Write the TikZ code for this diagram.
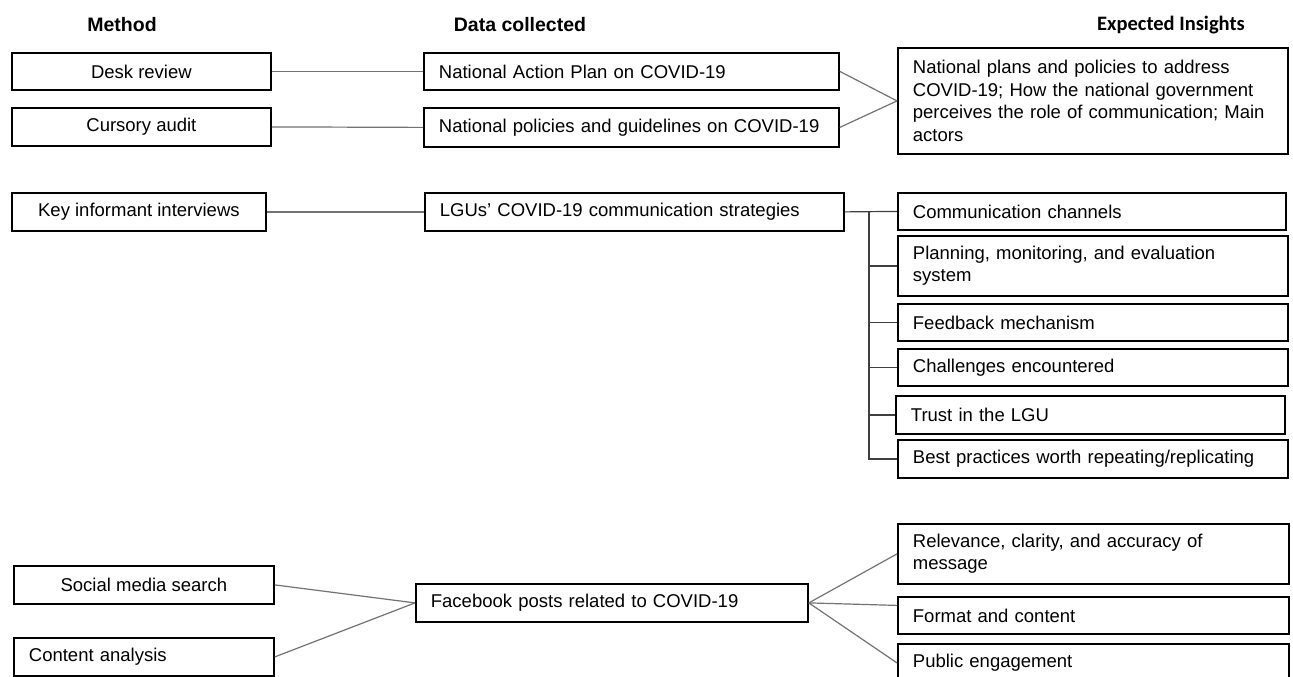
\documentclass[tikz,border=0pt]{standalone}
\usepackage{fontspec}
\setmainfont{Liberation Sans}
\newfontfamily\calfont{Carlito}
\begin{document}
\begin{tikzpicture}[x=1pt,y=-1pt,
  bx/.style={draw=black, line width=1.8pt, rectangle, inner sep=0pt, anchor=north west,
             font=\fontsize{18.5}{22.5}\selectfont},
  lbx/.style={bx, align=left, inner xsep=15pt},
  conn/.style={draw=black!55, line width=1.2pt},
  tree/.style={draw=black!75, line width=1.2pt},
  hd/.style={font=\bfseries\fontsize{19.5}{22}\selectfont},
  hdc/.style={font=\calfont\bfseries\fontsize{20.5}{22}\selectfont}]
\useasboundingbox (0,0) rectangle (1293,677);
\fill[white] (0,0) rectangle (1293,677);

% headers
\node[hd] (h1) at (122,25) {Method};
\node[hd] (h2) at (520,25) {Data collected};
\node[hdc] (h3) at (1171,25) {Expected Insights};

% top section
\node[bx, minimum width=259pt, minimum height=37pt] (desk) at (11,52) {Desk review};
\node[bx, minimum width=259pt, minimum height=38pt] (curs) at (11,107) {Cursory audit};
\node[lbx, text width=385pt, minimum height=37pt] (nap) at (423,52) {National Action Plan on COVID-19};
\node[lbx, text width=385pt, minimum height=39pt] (npg) at (423,107) {National policies and guidelines on COVID-19};
\node[lbx, text width=360pt, minimum height=106pt] (exp) at (897,47) {National plans and policies to address\\COVID-19; How the national government\\perceives the role of communication; Main\\actors};

\draw[conn] (desk.east) -- (nap.west);
\draw[conn] (curs.east) -- (npg.west);
\draw[conn] (nap.east) -- (exp.west);
\draw[conn] (npg.east) -- (exp.west);

% middle section
\node[bx, minimum width=254pt, minimum height=38pt] (key) at (11,192) {Key informant interviews};
\node[lbx, text width=389pt, minimum height=38pt] (lgu) at (424,192) {LGUs’ COVID-19 communication strategies};
\node[lbx, text width=358pt, minimum height=37pt] (comm) at (897,192) {Communication channels};
\node[lbx, text width=360pt, minimum height=60pt] (plan) at (897,235) {Planning, monitoring, and evaluation\\system};
\node[lbx, text width=360pt, minimum height=37pt] (feed) at (897,303) {Feedback mechanism};
\node[lbx, text width=360pt, minimum height=37pt] (chal) at (897,348) {Challenges encountered};
\node[lbx, text width=359pt, minimum height=38pt] (trust) at (895,395) {Trust in the LGU};
\node[lbx, text width=360pt, minimum height=38pt] (best) at (897,439) {Best practices worth repeating/replicating};

\draw[conn] (key.east) -- (lgu.west);
\draw[tree] (lgu.east) -- (comm.west);
\coordinate (t0) at (869,211);
\draw[tree] (t0) |- (best.west);
\draw[tree] (t0 |- plan.west) -- (plan.west);
\draw[tree] (t0 |- feed.west) -- (feed.west);
\draw[tree] (t0 |- chal.west) -- (chal.west);
\draw[tree] (t0 |- trust.west) -- (trust.west);

% bottom section
\node[bx, minimum width=260pt, minimum height=38pt] (soc) at (13,565) {Social media search};
\node[lbx, text width=230pt, minimum height=38pt] (cont) at (13,637) {Content analysis};
\node[lbx, text width=362pt, minimum height=38pt] (fb) at (415,583) {Facebook posts related to COVID-19};
\node[lbx, text width=361pt, minimum height=60pt] (rel) at (897,523) {Relevance, clarity, and accuracy of\\message};
\node[lbx, text width=361pt, minimum height=37pt] (fmt) at (897,596) {Format and content};
\node[lbx, text width=361pt, minimum height=38pt] (pub) at (897,643) {Public engagement};

\draw[conn] (soc.east) -- (fb.west);
\draw[conn] (cont.east) -- (fb.west);
\draw[conn] (fb.east) -- (rel.west);
\draw[conn] (fb.east) -- ([yshift=10pt]fmt.west);
\draw[conn] (fb.east) -- (pub.west);
\end{tikzpicture}
\end{document}
